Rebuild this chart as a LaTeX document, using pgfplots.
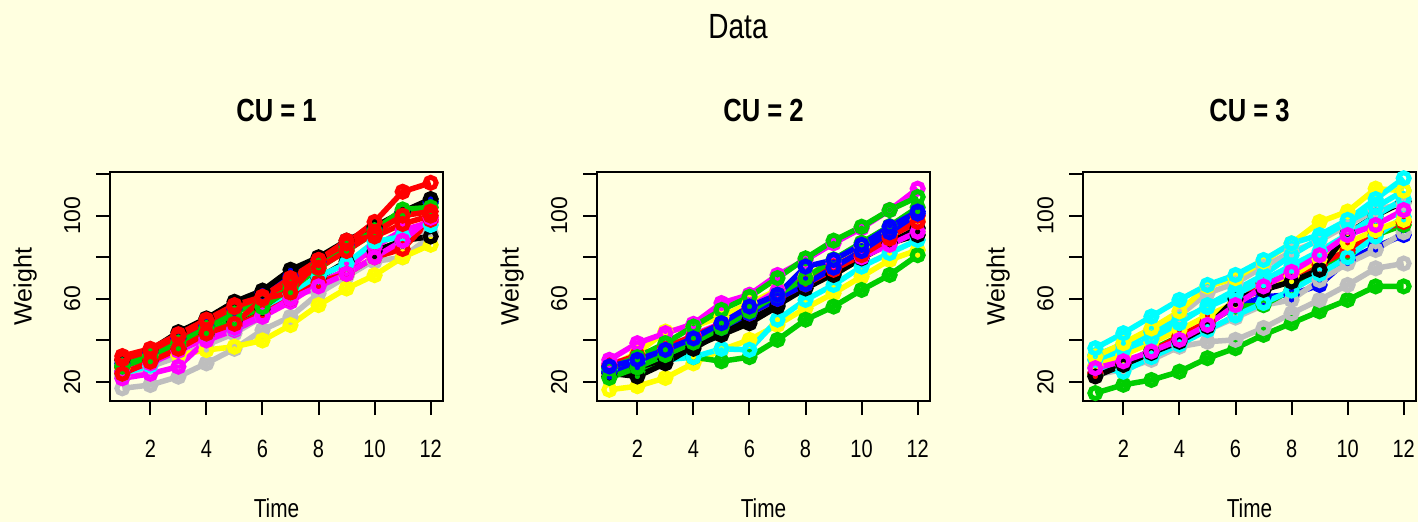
\documentclass[border=0pt]{standalone}
\usepackage{pgfplots}
\pgfplotsset{compat=1.18}
\usepackage{fontspec}
\setmainfont{Liberation Sans}
\newfontfamily\narrow{Liberation Sans}[FakeStretch=0.8]
\definecolor{bg}{HTML}{FFFFE0}
\definecolor{rgreen}{HTML}{00CD00}
\definecolor{rgray}{HTML}{BEBEBE}
\definecolor{rcyan}{HTML}{00FFFF}
\definecolor{rmag}{HTML}{FF00FF}
\definecolor{ryel}{HTML}{FFFF00}
\definecolor{rred}{HTML}{FF0000}
\definecolor{rblue}{HTML}{0000FF}
\pgfplotsset{
  ser/.style={line width=5.5pt, mark=o, mark size=5.5pt, mark options={line width=5pt, solid}},
  panel/.style={scale only axis, width=333pt, height=229pt, anchor=south west,
    xmin=0.56, xmax=12.44, ymin=10.9, ymax=121,
    xtick={2,4,6,8,10,12}, xticklabels={2,4,6,8,10,12},
    ytick={20,40,60,80,100,120}, yticklabels={20,,60,,100,},
    tick pos=left,
    tick align=outside, major tick length=14pt,
    axis line style={line width=2pt},
    every tick/.style={black, line width=2pt},
    xticklabel style={font=\narrow\fontsize{25}{28}\selectfont, yshift=-22pt},
    yticklabel style={font=\fontsize{23}{28}\selectfont, rotate=90, anchor=south},
    yticklabel shift=12pt,
    xlabel={Time}, ylabel={Weight},
    xlabel style={font=\narrow\fontsize{26}{30}\selectfont, at={(axis description cs:0.5,0)}, anchor=base, yshift=-116pt},
    ylabel style={font=\fontsize{25}{30}\selectfont, at={(axis description cs:-0.255,0.5)}, anchor=center},
    title style={at={(axis description cs:0.5,1)}, anchor=base, yshift=44pt, font=\narrow\bfseries\fontsize{32}{36}\selectfont},
  }
}
\begin{document}
\begin{tikzpicture}[x=1pt,y=1pt]
\useasboundingbox (0,0) rectangle (1418,522);
\fill[bg] (0,0) rectangle (1418,522);
\node[anchor=base, font=\narrow\fontsize{35}{40}\selectfont] at (738,483) {Data};

\begin{axis}[panel, at={(110pt,121pt)}, title={CU = 1}]
\addplot[ser, rgray] coordinates {(1,17) (2,18.6) (3,22.6) (4,29) (5,36) (6,45) (7,51.4) (8,62.6) (9,70.7) (10,78.7) (11,87.5) (12,92)};
\addplot[ser, rgray] coordinates {(1,22.6) (2,27.4) (3,32.2) (4,37.8) (5,43.4) (6,51.4) (7,62.6) (8,64) (9,74) (10,78) (11,80) (12,90)};
\addplot[ser, ryel] coordinates {(1,26.6) (2,33) (3,33) (4,35.4) (5,37) (6,40) (7,47.4) (8,57) (9,65) (10,71.4) (11,80) (12,86)};
\addplot[ser, black] coordinates {(1,25) (2,30) (3,36) (4,43) (5,49) (6,55) (7,63) (8,70) (9,78) (10,83) (11,88) (12,90)};
\addplot[ser, rmag] coordinates {(1,21.8) (2,24) (3,27.4) (4,40) (5,45) (6,51.4) (7,58.6) (8,67.4) (9,74) (10,85) (11,93) (12,97)};
\addplot[ser, rcyan] coordinates {(1,24) (2,28) (3,37) (4,41.8) (5,45.8) (6,52.2) (7,62.6) (8,70.7) (9,77) (10,87.5) (11,90) (12,95.5)};
\addplot[ser, rred] coordinates {(1,27) (2,31) (3,37) (4,42) (5,47) (6,53) (7,60) (8,68) (9,72) (10,80) (11,84) (12,98)};
\addplot[ser, rmag] coordinates {(1,25) (2,29) (3,35) (4,41) (5,46) (6,52) (7,60) (8,66) (9,72) (10,80) (11,88) (12,99)};
\addplot[ser, rgreen] coordinates {(1,27.4) (2,32) (3,37) (4,43.4) (5,50) (6,56) (7,65) (8,74.6) (9,83.5) (10,91.5) (11,101) (12,106)};
\addplot[ser, rblue] coordinates {(1,29) (2,34) (3,41) (4,47) (5,55) (6,63.4) (7,71) (8,78) (9,86) (10,94) (11,102) (12,106.7)};
\addplot[ser, black] coordinates {(1,30.6) (2,35.4) (3,44) (4,50.6) (5,58.6) (6,64) (7,74) (8,80) (9,88) (10,94.7) (11,101.9) (12,108)};
\addplot[ser, rgreen] coordinates {(1,28) (2,33) (3,39) (4,46) (5,53) (6,60) (7,67) (8,76) (9,85) (10,93) (11,103) (12,104)};
\addplot[ser, rred] coordinates {(1,24) (2,29.8) (3,36) (4,43.4) (5,48) (6,60) (7,63) (8,78.7) (9,88) (10,90) (11,96) (12,100)};
\addplot[ser, rred] coordinates {(1,31) (2,35) (3,42) (4,49) (5,56) (6,61) (7,68) (8,75) (9,83) (10,92) (11,100) (12,102)};
\addplot[ser, rred] coordinates {(1,32.5) (2,36) (3,43) (4,50) (5,57) (6,61) (7,70) (8,78.7) (9,86.7) (10,97) (11,111.5) (12,115.8)};
\end{axis}

\begin{axis}[panel, at={(597pt,121pt)}, title={CU = 2}]
\addplot[ser, ryel] coordinates {(1,16.3) (2,18) (3,22) (4,29) (5,35.5) (6,40.3) (7,47.5) (8,55.5) (9,62.7) (10,70.7) (11,78.7) (12,83.5)};
\addplot[ser, rgreen] coordinates {(1,26) (2,25) (3,31.5) (4,32) (5,30) (6,32) (7,40.3) (8,50) (9,56.3) (10,64.3) (11,71.5) (12,81)};
\addplot[ser, rcyan] coordinates {(1,26) (2,30) (3,30.7) (4,32) (5,36) (6,35.5) (7,50) (8,59.5) (9,66.7) (10,75.5) (11,82) (12,88.3)};
\addplot[ser, black] coordinates {(1,24.3) (2,22.7) (3,29) (4,37) (5,42.7) (6,48.3) (7,56.3) (8,67.5) (9,71.5) (10,79.5) (11,86.7) (12,90.7)};
\addplot[ser, black] coordinates {(1,22.7) (2,27) (3,31) (4,36) (5,44) (6,50) (7,57) (8,65) (9,72) (10,80) (11,87) (12,94)};
\addplot[ser, ryel] coordinates {(1,27.5) (2,34) (3,44.3) (4,46.7) (5,51.5) (6,58) (7,64.3) (8,70.7) (9,78.7) (10,85) (11,91.5) (12,98)};
\addplot[ser, rmag] coordinates {(1,29) (2,32) (3,36) (4,42.7) (5,48.3) (6,56) (7,64) (8,70) (9,77) (10,80) (11,86) (12,92.3)};
\addplot[ser, rred] coordinates {(1,28) (2,33) (3,37) (4,42) (5,48) (6,54.7) (7,61) (8,69) (9,75.5) (10,82.7) (11,90) (12,97)};
\addplot[ser, rred] coordinates {(1,27) (2,31) (3,35) (4,41) (5,47) (6,53) (7,60) (8,67) (9,74) (10,81) (11,89) (12,100)};
\addplot[ser, rblue] coordinates {(1,25) (2,29) (3,34) (4,40) (5,46) (6,53) (7,60) (8,67) (9,75) (10,83) (11,92) (12,101)};
\addplot[ser, rmag] coordinates {(1,30.7) (2,38.7) (3,43.5) (4,48) (5,58) (6,62) (7,71.5) (8,78.7) (9,86.7) (10,94) (11,102.7) (12,113)};
\addplot[ser, rgreen] coordinates {(1,26.7) (2,32) (3,38.7) (4,46.7) (5,54.7) (6,61) (7,70) (8,79.5) (9,88) (10,94.7) (11,102.7) (12,109)};
\addplot[ser, rgreen] coordinates {(1,22) (2,27) (3,33) (4,39) (5,46) (6,54) (7,62) (8,70) (9,79) (10,87) (11,95) (12,104)};
\addplot[ser, rblue] coordinates {(1,27.5) (2,30.7) (3,35.5) (4,41) (5,48.3) (6,56.3) (7,62) (8,75.5) (9,78.7) (10,86) (11,94.7) (12,102)};
\end{axis}

\begin{axis}[panel, at={(1083pt,121pt)}, title={CU = 3}]
\addplot[ser, rgreen] coordinates {(1,14.7) (2,18.7) (3,21) (4,25) (5,31.5) (6,36.3) (7,42.7) (8,48.3) (9,54) (10,59.5) (11,66) (12,66)};
\addplot[ser, rgray] coordinates {(1,23.5) (2,26) (3,30.7) (4,37) (5,39.4) (6,40.3) (7,46) (8,53) (9,59.5) (10,66.7) (11,74.7) (12,77)};
\addplot[ser, rblue] coordinates {(1,24.3) (2,29) (3,34) (4,40.3) (5,48.3) (6,56.3) (7,61) (8,62) (9,66.7) (10,78.7) (11,85) (12,90.7)};
\addplot[ser, rgray] coordinates {(1,24) (2,28) (3,33) (4,39) (5,45) (6,51) (7,57) (8,59.5) (9,69) (10,77) (11,83.5) (12,92)};
\addplot[ser, rgreen] coordinates {(1,23.5) (2,28.3) (3,35.5) (4,42) (5,48.3) (6,56.3) (7,57) (8,64.3) (9,74) (10,82) (11,90.7) (12,95.5)};
\addplot[ser, rred] coordinates {(1,24.3) (2,29) (3,34.6) (4,42) (5,49) (6,58) (7,67.5) (8,71.5) (9,76.3) (10,83.5) (11,92.3) (12,97)};
\addplot[ser, rcyan] coordinates {(1,27) (2,25) (3,32) (4,38) (5,45) (6,52) (7,58) (8,64) (9,72) (10,80) (11,90) (12,99.5)};
\addplot[ser, ryel] coordinates {(1,28) (2,33) (3,39) (4,45) (5,52) (6,58) (7,65) (8,71) (9,79) (10,87) (11,93) (12,98)};
\addplot[ser, black] coordinates {(1,22.7) (2,28.3) (3,34) (4,39.4) (5,46.7) (6,60) (7,64.3) (8,68.3) (9,74) (10,91.5) (11,100) (12,106.7)};
\addplot[ser, rgray] coordinates {(1,30.7) (2,37) (3,45) (4,52) (5,62.7) (6,67.5) (7,75.5) (8,82.7) (9,88) (10,95.5) (11,102.7) (12,106)};
\addplot[ser, rcyan] coordinates {(1,33) (2,38) (3,44) (4,50) (5,56) (6,62) (7,69) (8,76) (9,83) (10,91) (11,100) (12,108)};
\addplot[ser, rcyan] coordinates {(1,30.7) (2,35.5) (3,41) (4,48.3) (5,57) (6,64.3) (7,71.5) (8,81) (9,89) (10,97) (11,104) (12,112)};
\addplot[ser, ryel] coordinates {(1,32.3) (2,38.7) (3,45.8) (4,54) (5,66) (6,70) (7,78) (8,86.7) (9,97) (10,102) (11,113) (12,112)};
\addplot[ser, rcyan] coordinates {(1,36.3) (2,43.5) (3,51.5) (4,59.5) (5,66.7) (6,71.5) (7,78.7) (8,86.7) (9,90.7) (10,98) (11,108) (12,118)};
\addplot[ser, rmag] coordinates {(1,26.7) (2,30) (3,34.7) (4,40.3) (5,47.5) (6,57) (7,66) (8,73) (9,81) (10,90.7) (11,95.5) (12,102.7)};
\end{axis}
\end{tikzpicture}
\end{document}
